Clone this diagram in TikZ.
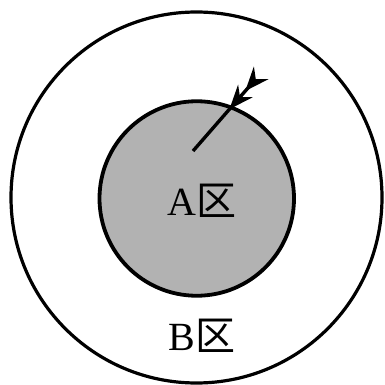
\documentclass[tikz,border=0pt]{standalone}
\usepackage{fontspec}
\setmainfont{Liberation Serif}
\newfontfamily\cjk{Noto Sans CJK SC}
\usetikzlibrary{arrows.meta}
\definecolor{zonegray}{RGB}{178,178,178}
\tikzset{
  zonelabel/.style={inner sep=0pt, font=\fontsize{40}{42}\selectfont},
  ring/.style={draw=black, circle, inner sep=0pt},
  fletched/.style={line width=3.4pt, -{Stealth[reversed,length=24pt,width=19pt,inset=8pt]Stealth[reversed,length=24pt,width=19pt,inset=8pt]}},
}
\begin{document}
\begin{tikzpicture}[x=1pt,y=-1pt]
\useasboundingbox (0,0) rectangle (384,385);
\node[ring, line width=3.2pt, minimum size=371pt] (outer) at (196.5,197.5) {};
\node[ring, line width=3.8pt, fill=zonegray, minimum size=194.5pt] (inner) at (196.75,198.5) {};
\node[zonelabel] (a) at (202,201) {A{\cjk 区}};
\node[zonelabel] (b) at (202,336) {B{\cjk 区}};
\coordinate (tail) at (193,151);
\coordinate (tip) at (261,73);
\draw[fletched] (tail) -- (tip);
\end{tikzpicture}
\end{document}
